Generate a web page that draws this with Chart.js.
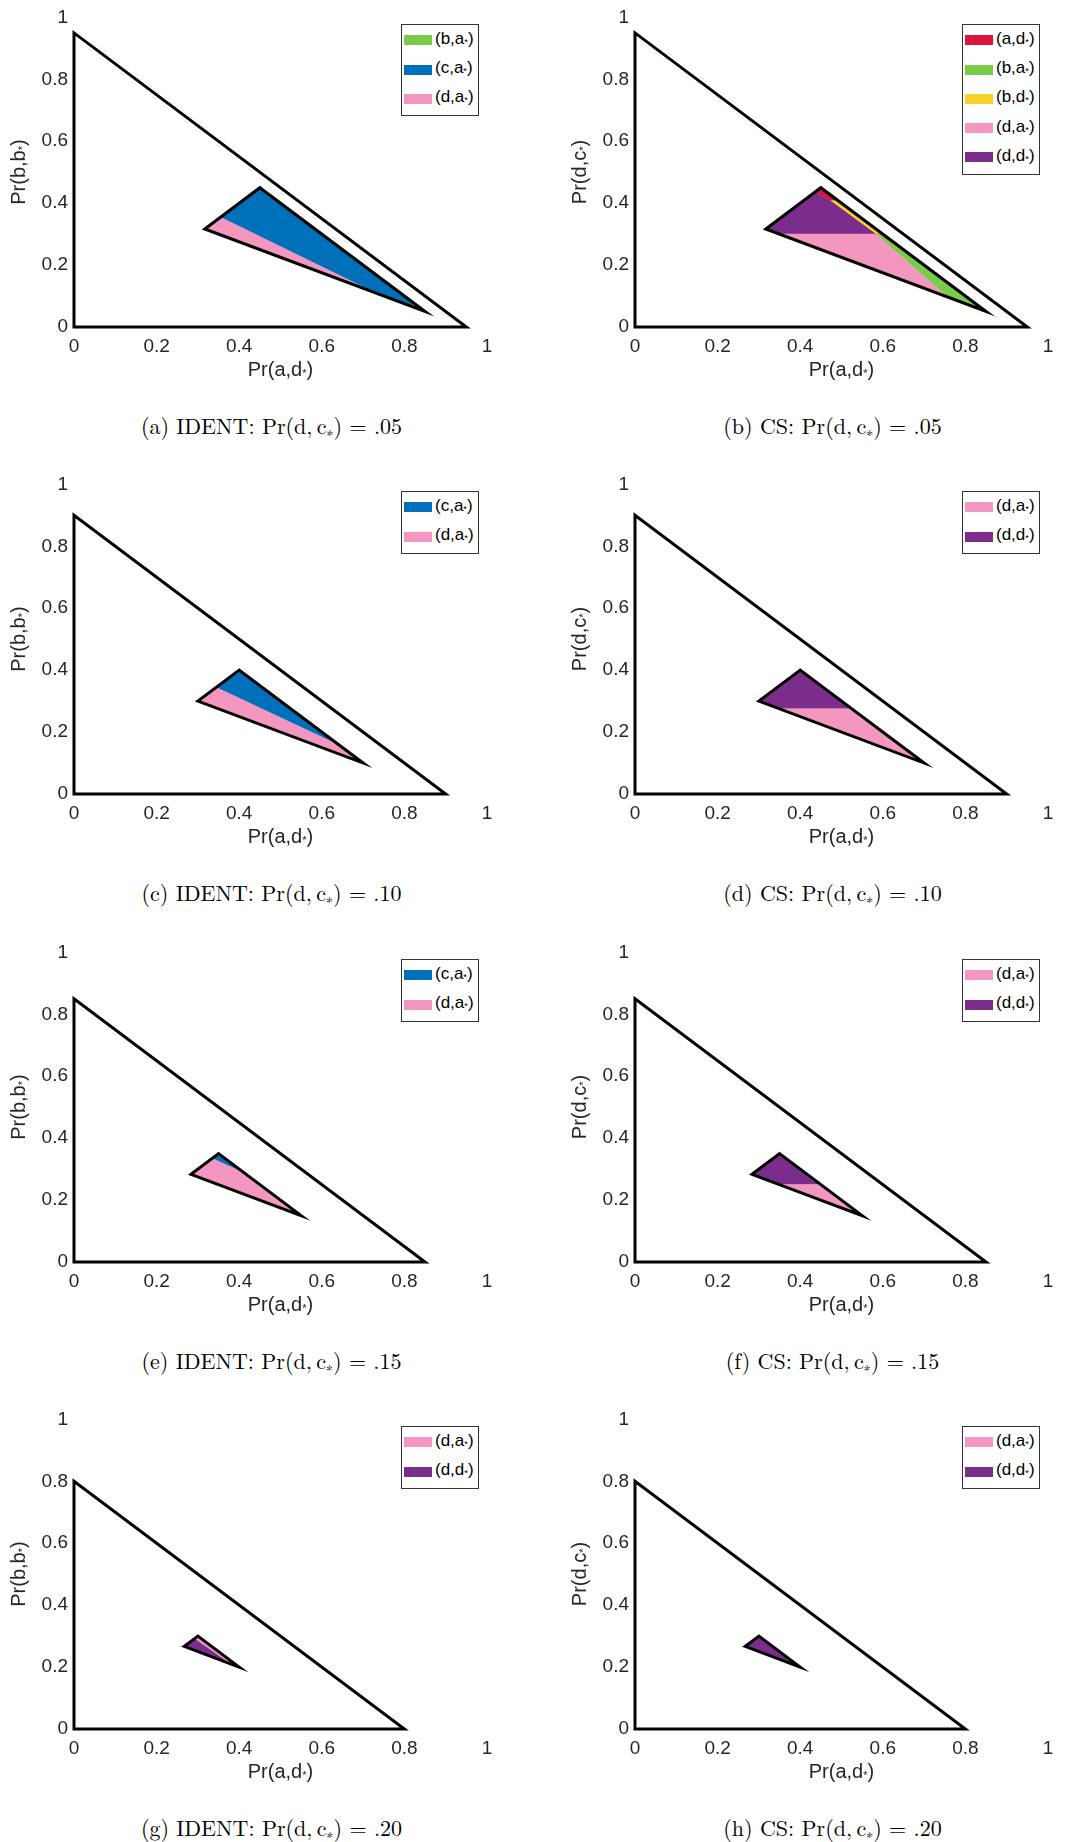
<!DOCTYPE html>
<html>
<head>
<meta charset="utf-8">
<script src="https://cdn.jsdelivr.net/npm/chart.js@4.4.0/dist/chart.umd.min.js"></script>
<style>
  html, body { margin: 0; padding: 0; background: #fff; }
  body { width: 1065px; height: 1842px; position: relative; overflow: hidden; }
  .panel { position: absolute; width: 504px; height: 400px; }
  .panel canvas { position: absolute; left: 0; top: 0; }
  .leg { position: absolute; border: 1px solid #333; background: #fff; box-sizing: border-box;
         font-family: 'Liberation Sans', Arial, sans-serif; font-size: 17px; color: #000; }
  .leg .it { position: absolute; left: 2px; width: 74px; height: 20px; }
  .leg .sw { position: absolute; left: 0; top: 5px; width: 28px; height: 10px; }
  .leg .lb { position: absolute; left: 31px; top: -1.5px; line-height: 20px; white-space: nowrap; }
  .st { font-size: 0.55em; vertical-align: -0.12em; line-height: 0; }
  .ax { position: absolute; width: 200px; height: 24px; line-height: 24px; text-align: center; white-space: nowrap;
        font-family: 'Liberation Sans', Arial, sans-serif; font-size: 20px; color: #262626; }
  .cap { position: absolute; width: 600px; text-align: center; white-space: nowrap; color: #000;
         font-family: 'Latin Modern Roman', 'CMU Serif', 'Liberation Serif', serif; font-size: 22px; line-height: 28px; }
  .cap sub { font-size: 14px; vertical-align: -3px; line-height: 0; }
</style>
</head>
<body>
<script>
// ---- data ----
const captions = ['(a) IDENT', '(b) CS', '(c) IDENT', '(d) CS', '(e) IDENT', '(f) CS', '(g) IDENT', '(h) CS'];
const prDC = ['.05', '.05', '.10', '.10', '.15', '.15', '.20', '.20'];
const yTitles = [['b', 'b'], ['d', 'c']];
const xTitle = ['a', 'd'];
const tickValues = [0, 0.2, 0.4, 0.6, 0.8, 1];

// outer simplex edge: 1 - Pr(d,c*)
const outerEdge = [0.95, 0.90, 0.85, 0.80];

// inner triangles (left, top, right vertex)
const innerTri = [
  [[0.3167, 0.3167], [0.45, 0.45], [0.85, 0.05]],
  [[0.30, 0.30], [0.40, 0.40], [0.70, 0.10]],
  [[0.2833, 0.2833], [0.35, 0.35], [0.55, 0.15]],
  [[0.2667, 0.2667], [0.30, 0.30], [0.40, 0.20]]
];

// (a) IDENT .05
const a_ba = [[0.815, 0.085], [0.85, 0.05], [0.825, 0.0625]];
const a_ca = [[0.355, 0.355], [0.45, 0.45], [0.815, 0.085], [0.825, 0.0625], [0.74, 0.104]];
const a_da = [[0.3167, 0.3167], [0.355, 0.355], [0.74, 0.104]];
// (b) CS .05
const b_ad = [[0.436, 0.436], [0.45, 0.45], [0.49, 0.41], [0.472, 0.41]];
const b_ba = [[0.584, 0.30], [0.60, 0.30], [0.85, 0.05], [0.757, 0.0965]];
const b_bd = [[0.472, 0.41], [0.49, 0.41], [0.60, 0.30], [0.584, 0.30]];
const b_da = [[0.35, 0.30], [0.584, 0.30], [0.757, 0.0965]];
const b_dd = [[0.3167, 0.3167], [0.436, 0.436], [0.472, 0.41], [0.584, 0.30], [0.35, 0.30]];
// (c) IDENT .10
const c_ca = [[0.345, 0.345], [0.40, 0.40], [0.64, 0.16]];
const c_da = [[0.30, 0.30], [0.345, 0.345], [0.64, 0.16], [0.70, 0.10]];
// (d) CS .10
const d_da = [[0.35, 0.275], [0.525, 0.275], [0.70, 0.10]];
const d_dd = [[0.30, 0.30], [0.40, 0.40], [0.525, 0.275], [0.35, 0.275]];
// (e) IDENT .15
const e_ca = [[0.335, 0.335], [0.35, 0.35], [0.41, 0.29]];
const e_da = [[0.2833, 0.2833], [0.335, 0.335], [0.41, 0.29], [0.55, 0.15]];
// (f) CS .15
const f_da = [[0.35, 0.25], [0.45, 0.25], [0.55, 0.15]];
const f_dd = [[0.2833, 0.2833], [0.35, 0.35], [0.45, 0.25], [0.35, 0.25]];
// (g) IDENT .20
const g_da = [[0.292, 0.292], [0.30, 0.30], [0.40, 0.20], [0.38, 0.21]];
const g_dd = [[0.2667, 0.2667], [0.292, 0.292], [0.38, 0.21]];
// (h) CS .20
const h_da = [];
const h_dd = [[0.2667, 0.2667], [0.30, 0.30], [0.40, 0.20]];

const colors = { ad: '#DC143C', ba: '#7BCB4B', bd: '#FAD02A', ca: '#0070BA', da: '#F397C1', dd: '#7B2D8B' };
const labels = { ad: ['a', 'd'], ba: ['b', 'a'], bd: ['b', 'd'], ca: ['c', 'a'], da: ['d', 'a'], dd: ['d', 'd'] };

const regions = [
  [['ba', a_ba], ['ca', a_ca], ['da', a_da]],
  [['ad', b_ad], ['ba', b_ba], ['bd', b_bd], ['da', b_da], ['dd', b_dd]],
  [['ca', c_ca], ['da', c_da]],
  [['da', d_da], ['dd', d_dd]],
  [['ca', e_ca], ['da', e_da]],
  [['da', f_da], ['dd', f_dd]],
  [['da', g_da], ['dd', g_dd]],
  [['da', h_da], ['dd', h_dd]]
];

// ---- layout ----
const colLeft = [0, 561];
const rowTop = [0, 467, 935, 1402];
const W = 504, H = 400;

Chart.defaults.font.family = "'Liberation Sans', Arial, sans-serif";

function pr(pair) {
  return 'Pr(' + pair[0] + ',' + pair[1] + '<span class="st">*</span>)';
}

function outline(pts) {
  // repeat first two vertices so every corner gets a proper join
  return pts.concat([pts[0], pts[1]]);
}

function addDiv(cls, x, y, html) {
  const d = document.createElement('div');
  d.className = cls;
  d.style.left = x + 'px';
  d.style.top = y + 'px';
  d.innerHTML = html;
  document.body.appendChild(d);
  return d;
}

function makePanel(i) {
  const col = i % 2, row = Math.floor(i / 2);
  const left = colLeft[col], top = rowTop[row];

  const div = addDiv('panel', left, top, '');
  const cv = document.createElement('canvas');
  cv.width = W; cv.height = H;
  div.appendChild(cv);

  const T = outerEdge[row];
  const outer = [[0, 0], [T, 0], [0, T]];

  const datasets = [
    { data: outline(innerTri[row]), showLine: true, borderColor: '#000', borderWidth: 3,
      pointRadius: 0, fill: false, clip: false, borderJoinStyle: 'miter' },
    { data: outline(outer), showLine: true, borderColor: '#000', borderWidth: 3,
      pointRadius: 0, fill: false, clip: false, borderJoinStyle: 'miter' }
  ];
  regions[i].forEach(([k, pts]) => {
    datasets.push({ data: pts, showLine: true, backgroundColor: colors[k], borderColor: colors[k],
      borderWidth: 0.6, pointRadius: 0, fill: 'shape', clip: false });
  });

  const tickFont = { size: 19 };
  const fmt = v => String(v);
  new Chart(cv, {
    type: 'scatter',
    data: { datasets },
    options: {
      responsive: false, animation: false, events: [],
      layout: { padding: { left: 0, right: 17, top: 17, bottom: 0 } },
      plugins: { legend: { display: false }, tooltip: { enabled: false } },
      scales: {
        x: {
          type: 'linear', min: tickValues[0], max: tickValues[tickValues.length - 1],
          grid: { display: false, drawTicks: false }, border: { display: false },
          afterBuildTicks: s => { s.ticks = tickValues.map(v => ({ value: v })); },
          ticks: { padding: 8, color: '#262626', font: tickFont, maxRotation: 0, autoSkip: false, callback: fmt },
          afterFit: s => { s.height = H - 327; }
        },
        y: {
          type: 'linear', min: tickValues[0], max: tickValues[tickValues.length - 1],
          grid: { display: false, drawTicks: false }, border: { display: false },
          afterBuildTicks: s => { s.ticks = tickValues.map(v => ({ value: v })); },
          ticks: { padding: 6, color: '#262626', font: tickFont, autoSkip: false, callback: fmt },
          afterFit: s => { s.width = 74; }
        }
      }
    }
  });

  // axis titles
  addDiv('ax', left + 280.5 - 100, top + 356.5, pr(xTitle));
  const yt = addDiv('ax', left + 17.8 - 100, top + 172 - 12, pr(yTitles[col]));
  yt.style.transform = 'rotate(-90deg)';

  // legend box
  const n = regions[i].length;
  const leg = addDiv('leg', left + 401, top + 23.5, '');
  leg.style.width = '78px';
  leg.style.height = (29.3 * n + 4.5) + 'px';
  regions[i].forEach(([k], j) => {
    const it = document.createElement('div');
    it.className = 'it';
    it.style.top = (16.7 - 1 - 10 + 29.3 * j) + 'px';
    it.innerHTML = '<span class="sw" style="background:' + colors[k] + '"></span>' +
      '<span class="lb">(' + labels[k][0] + ',' + labels[k][1] + '<span class="st">*</span>)</span>';
    leg.appendChild(it);
  });

  // caption
  addDiv('cap', left + 271.5 - 300, top + 411,
    captions[i] + ': Pr(d,&#8201;c<sub>\u2217</sub>) = ' + prDC[i]);
}

for (let i = 0; i < 8; i++) makePanel(i);
</script>
</body>
</html>
